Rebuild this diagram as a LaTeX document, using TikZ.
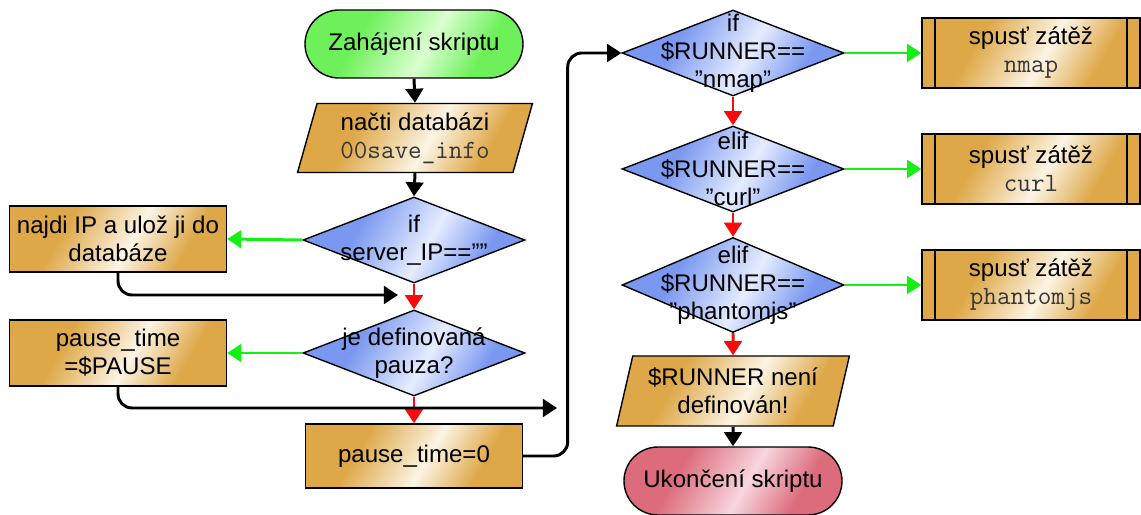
\documentclass[tikz,border=0pt]{standalone}
\usepackage{fontspec}
\setmainfont{Liberation Sans}
\usepackage{tikz}
\usetikzlibrary{shapes,arrows.meta,positioning}
\definecolor{goldmid}{RGB}{222,168,72}
\definecolor{goldlight}{RGB}{252,244,228}
\definecolor{bluemid}{RGB}{122,152,240}
\definecolor{bluelight}{RGB}{230,237,255}
\definecolor{greenmid}{RGB}{110,240,90}
\definecolor{greenlight}{RGB}{218,255,208}
\definecolor{redmid}{RGB}{220,108,124}
\definecolor{redlight}{RGB}{248,214,222}
\definecolor{yesgreen}{RGB}{20,240,20}
\definecolor{nored}{RGB}{250,10,10}
\definecolor{codegray}{RGB}{55,55,55}

\pgfdeclarehorizontalshading{goldglow}{100bp}{color(0bp)=(goldmid); color(34bp)=(goldmid); color(54bp)=(goldlight); color(70bp)=(goldmid); color(100bp)=(goldmid)}
\pgfdeclarehorizontalshading{blueglow}{100bp}{color(0bp)=(bluemid); color(34bp)=(bluemid); color(54bp)=(bluelight); color(70bp)=(bluemid); color(100bp)=(bluemid)}
\pgfdeclarehorizontalshading{greenglow}{100bp}{color(0bp)=(greenmid); color(34bp)=(greenmid); color(54bp)=(greenlight); color(70bp)=(greenmid); color(100bp)=(greenmid)}
\pgfdeclarehorizontalshading{redglow}{100bp}{color(0bp)=(redmid); color(34bp)=(redmid); color(54bp)=(redlight); color(70bp)=(redmid); color(100bp)=(redmid)}

\newcommand{\codetxt}[1]{{\fontsize{15}{16}\selectfont\ttfamily\color{codegray}#1}}

\begin{document}
\begin{tikzpicture}[
    font=\fontsize{13.7}{16}\selectfont,
    base/.style={draw, line width=0.8pt, align=center, inner sep=2pt, shading angle=-30},
    terminal/.style={base, rectangle, rounded corners=6.8mm, minimum width=4.36cm, minimum height=1.36cm},
    io/.style={base, trapezium, trapezium left angle=75, trapezium right angle=105, trapezium stretches=true, minimum width=4.7cm, minimum height=1.38cm, shading=goldglow},
    process/.style={base, rectangle, minimum width=4.34cm, minimum height=1.32cm, shading=goldglow},
    subproc/.style={process, minimum width=4.36cm, minimum height=1.4cm, path picture={
        \draw[line width=0.8pt] ([xshift=0.26cm]path picture bounding box.north west) -- ([xshift=0.26cm]path picture bounding box.south west)
            ([xshift=-0.26cm]path picture bounding box.north east) -- ([xshift=-0.26cm]path picture bounding box.south east);}},
    decision/.style={base, diamond, minimum width=4.44cm, minimum height=1.72cm, inner sep=0pt, shading=blueglow},
    arrow/.style={-{Triangle[length=8pt,width=10pt]}, line width=1.7pt},
    yesarrow/.style={arrow, draw=yesgreen},
    noarrow/.style={arrow, draw=nored}
]
    \useasboundingbox (0,0) rectangle (22.82,10.3);

    % left column
    \node[terminal, shading=greenglow] (start) at (8.28,9.42) {Zahájení skriptu};
    \node[io] (load) at (8.30,7.54) {načti databázi\\\codetxt{00save\_info}};
    \node[decision, label={[align=center]center:{if\\server\_IP==””}}] (ipq) at (8.28,5.5) {};
    \node[process] (findip) at (2.36,5.52) {najdi IP a ulož ji do\\databáze};
    \node[decision, label={[align=center]center:{je definovaná\\pauza?}}] (pauseq) at (8.28,3.24) {};
    \node[process] (setpause) at (2.36,3.24) {pause\_time\\=\$PAUSE};
    \node[process, minimum height=1.28cm] (nopause) at (8.28,1.18) {pause\_time=0};
    \coordinate (join1) at (7.96,4.4);
    \coordinate (join2) at (11.14,2.14);

    % right column
    \node[decision, label={[align=center]center:{if\\\$RUNNER==\\”nmap”}}] (nmapq) at (14.66,9.24) {};
    \node[decision, label={[align=center]center:{elif\\\$RUNNER==\\”curl”}}] (curlq) at (14.66,6.92) {};
    \node[decision, minimum height=1.9cm, label={[align=center]center:{elif\\\$RUNNER==\\”phantomjs”}}] (phantq) at (14.66,4.6) {};
    \node[io, minimum width=4.66cm, minimum height=1.4cm] (undef) at (14.66,2.48) {\$RUNNER není\\definován!};
    \node[terminal, shading=redglow] (stop) at (14.66,0.68) {Ukončení skriptu};

    \node[subproc] (runnmap) at (20.62,9.24) {spusť zátěž\\\codetxt{nmap}};
    \node[subproc] (runcurl) at (20.62,6.92) {spusť zátěž\\\codetxt{curl}};
    \node[subproc] (runphant) at (20.62,4.6) {spusť zátěž\\\codetxt{phantomjs}};

    \draw[arrow] (start.south) -- (load.north);
    \draw[arrow] (load.south) -- (ipq.north);
    \draw[yesarrow] (ipq.west) -- (findip.east);
    \draw[noarrow] (ipq.south) -- (pauseq.north);
    \draw[arrow, rounded corners=8pt] (findip.south) |- (join1);
    \draw[yesarrow] (pauseq.west) -- (setpause.east);
    \draw[noarrow] (pauseq.south) -- (nopause.north);
    \draw[arrow, rounded corners=8pt] (setpause.south) |- (join2);
    \draw[arrow, rounded corners=8pt] (nopause.east) -- ++(0.89,0) |- (nmapq.west);

    \draw[noarrow] (nmapq.south) -- (curlq.north);
    \draw[noarrow] (curlq.south) -- (phantq.north);
    \draw[noarrow] (phantq.south) -- (undef.north);
    \draw[arrow] (undef.south) -- (stop.north);
    \draw[yesarrow] (nmapq.east) -- (runnmap.west);
    \draw[yesarrow] (curlq.east) -- (runcurl.west);
    \draw[yesarrow] (phantq.east) -- (runphant.west);
\end{tikzpicture}
\end{document}
